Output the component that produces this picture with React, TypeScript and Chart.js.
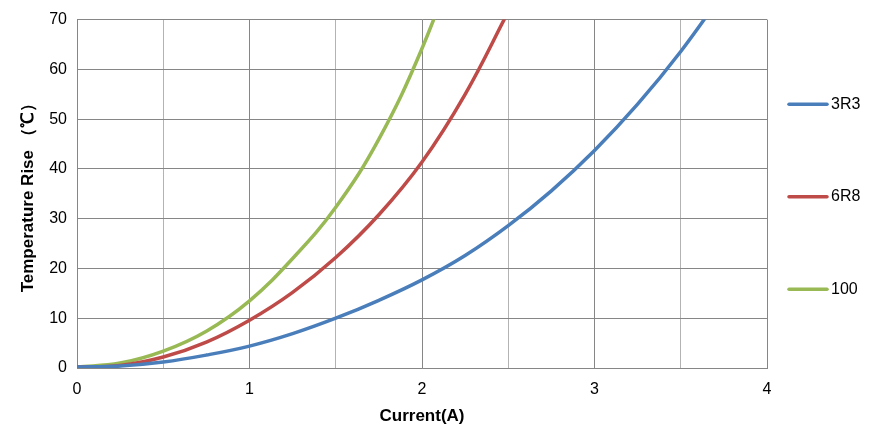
import React, { useEffect, useRef } from "react";
import { Chart, registerables } from "chart.js";

Chart.register(...registerables);

// Current (A) sample points shared by all series
const currents = [0, 0.25, 0.5, 0.75, 1, 1.25, 1.5, 1.75, 2, 2.25, 2.5, 2.75, 3, 3.25, 3.5, 3.75];

const seriesLabels = ["3R3", "6R8", "100"];
const seriesColors = ["#4A7EBB", "#BE4B48", "#98B954"];

// Temperature rise (℃)
const temps3R3 = [0.2, 0.4, 1.2, 2.6, 4.4, 6.9, 10.0, 13.6, 17.7, 22.6, 28.6, 35.6, 43.7, 53.0, 63.6, 75.6];
const temps6R8 = [0.2, 0.5, 2.2, 5.2, 9.6, 15.2, 22.2, 30.8, 41.4, 55.0, 71.6];
const temps100 = [0.2, 1.0, 3.4, 7.4, 13.5, 22.0, 32.3, 46.0, 64.2, 87.0];

const xTitle = "Current(A)";
const yTitle = "Temperature Rise （℃）";

const FONT = "'Liberation Sans', Arial, sans-serif";

export default function App() {
  const ref = useRef<HTMLCanvasElement | null>(null);

  useEffect(() => {
    document.body.style.margin = "0";
    const canvas = ref.current;
    if (!canvas) return;

    const seriesValues = [temps3R3, temps6R8, temps100];
    const datasets = seriesValues.map((vals, i) => ({
      label: seriesLabels[i],
      data: vals.map((v, j) => ({ x: currents[j], y: v })),
      borderColor: seriesColors[i],
      backgroundColor: seriesColors[i],
      borderWidth: 3.5,
      pointRadius: 0,
      tension: 0.4,
      clip: 0,
    }));

    const legendPlugin = {
      id: "sideLegend",
      afterDraw(chart: any) {
        const { ctx, chartArea } = chart;
        const h = chartArea.bottom - chartArea.top;
        ctx.save();
        chart.data.datasets.forEach((ds: any, i: number) => {
          const y = chartArea.top + h * (0.243 + i * 0.2655);
          const x0 = chartArea.right + 22;
          ctx.strokeStyle = ds.borderColor;
          ctx.lineWidth = 3.5;
          ctx.lineCap = "round";
          ctx.beginPath();
          ctx.moveTo(x0, y);
          ctx.lineTo(x0 + 38, y);
          ctx.stroke();
          ctx.fillStyle = "#000";
          ctx.font = `16px ${FONT}`;
          ctx.textAlign = "left";
          ctx.textBaseline = "middle";
          ctx.fillText(ds.label, x0 + 42, y);
        });
        ctx.restore();
      },
    };

    const chart = new Chart(canvas, {
      type: "line",
      data: { datasets },
      options: {
        animation: false,
        responsive: true,
        maintainAspectRatio: false,
        layout: { padding: { top: 18, right: 113, left: 0, bottom: 0 } },
        plugins: {
          legend: { display: false },
          tooltip: { enabled: false },
        },
        scales: {
          x: {
            type: "linear",
            min: 0,
            max: 4,
            afterFit: (s: any) => {
              s.height = 71;
            },
            ticks: {
              stepSize: 0.5,
              padding: 12,
              color: "#000",
              font: { family: FONT, size: 16 },
              maxRotation: 0,
              autoSkip: false,
              callback: (v: any) => (Number.isInteger(v) ? String(v) : ""),
            },
            grid: {
              drawTicks: false,
              color: (c: any) => (c.tick && Number.isInteger(c.tick.value) ? "#868686" : "#b3b3b3"),
              lineWidth: 1,
            },
            border: { color: "#868686", width: 1 },
            title: {
              display: true,
              text: xTitle,
              color: "#000",
              font: { family: FONT, size: 17, weight: "bold" },
              padding: { top: 0, bottom: 12 },
            },
          },
          y: {
            min: 0,
            max: 70,
            afterFit: (s: any) => {
              s.width = 77;
            },
            ticks: {
              stepSize: 10,
              padding: 10,
              color: "#000",
              font: { family: FONT, size: 16 },
            },
            grid: {
              drawTicks: false,
              color: "#868686",
              lineWidth: 1,
            },
            border: { color: "#868686", width: 1 },
            title: {
              display: true,
              text: yTitle,
              color: "#000",
              font: { family: FONT, size: 17, weight: "bold" },
              padding: { top: 18, bottom: 0 },
            },
          },
        },
      },
      plugins: [legendPlugin],
    });

    return () => chart.destroy();
  }, []);

  return (
    <div style={{ position: "relative", width: 880, height: 439 }}>
      <canvas ref={ref} />
    </div>
  );
}
